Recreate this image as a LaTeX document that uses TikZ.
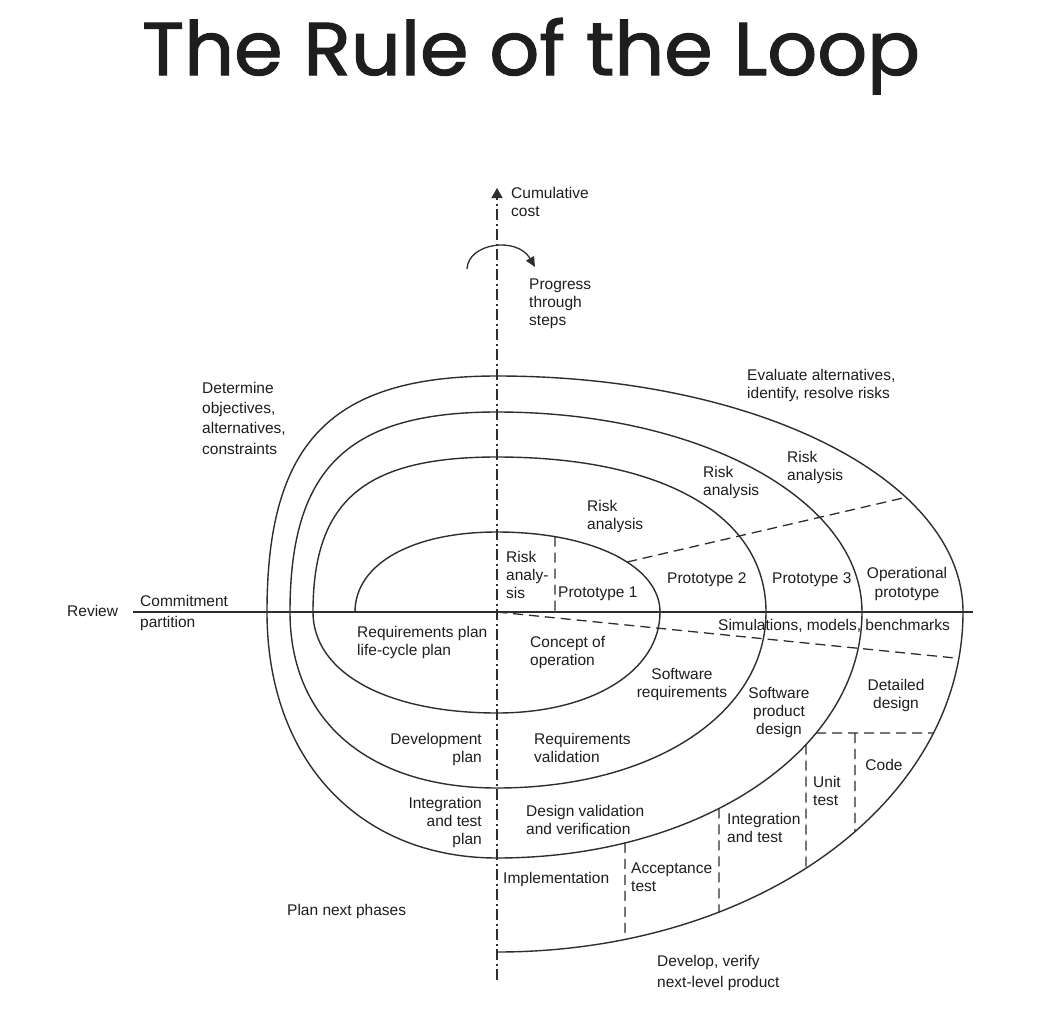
\documentclass[tikz,border=0pt]{standalone}
\usepackage{fontspec}
\setmainfont{Liberation Sans}
\newfontfamily\titlefont[FakeBold=1.5]{Poppins}
\usetikzlibrary{arrows.meta,intersections,calc}
\definecolor{ink}{HTML}{1E1E1E}
\definecolor{lineink}{HTML}{2E2E2E}
\begin{document}
\begin{tikzpicture}[x=1pt,y=-1pt,
  lbl/.style={font=\fontsize{15.5}{18}\selectfont, text=ink, inner sep=0pt, anchor=base west, align=left},
  lblc/.style={lbl, anchor=base, align=center},
  lblr/.style={lbl, anchor=base east, align=right},
  wide/.style={font=\fontsize{15.5}{20.3}\selectfont},
  mid/.style={font=\fontsize{15.5}{19}\selectfont},
  curve/.style={draw=lineink, line width=1.4pt},
  dashline/.style={draw=lineink, line width=1.3pt, dash pattern=on 10pt off 6pt},
  axisline/.style={draw=lineink, line width=1.3pt},
  dashdotline/.style={draw=lineink, line width=1.2pt, dash pattern=on 11pt off 3.5pt on 2pt off 3.5pt},
]
\fill[white] (0,0) rectangle (1063,1009);
\useasboundingbox (0,0) rectangle (1063,1009);

% title
\node[anchor=base, inner sep=0pt, text=ink] (title) at (531,75)
  {\resizebox{778pt}{57pt}{\titlefont The Rule of the Loop}};

% axes
\coordinate (hl) at (133,612);
\coordinate (hr) at (973,612);
\coordinate (vb) at (497,980);
\coordinate (vt) at (497,188);
\coordinate (o) at (497,612);
\draw[axisline] (hl) -- (hr);
\draw[dashdotline, -{Triangle[width=11pt,length=10pt]}] (vb) -- (vt);

% progress arrow
\coordinate (pa) at (467,269);
\coordinate (pb) at (535,267);
\draw[curve, line width=1.3pt, -{Triangle[width=9pt,length=10pt]}] (pa) .. controls (468,243) and (517,236) .. (pb);

% spiral
\draw[curve] (355,612)
 .. controls (355,564) and (412,532) .. (497,532)
 .. controls (592,532) and (660,566) .. (660,612)
 .. controls (660,671) and (592,713) .. (497,713)
 .. controls (387,713) and (313,673) .. (313,612)
 .. controls (313,500) and (365,457) .. (497,457)
 .. controls (664,457) and (766,516) .. (766,612)
 .. controls (766,714) and (653,788) .. (497,788)
 .. controls (369,788) and (290,721) .. (290,612)
 .. controls (290,468) and (348,412) .. (497,412)
 .. controls (701,412) and (862,500) .. (862,612)
 .. controls (862,750) and (701,858) .. (497,858)
 .. controls (359,858) and (267,760) .. (267,612)
 .. controls (267,442) and (331,376) .. (497,376)
 .. controls (758,376) and (963,480) .. (963,612)
 .. controls (963,802) and (758,952) .. (497,952);

% quarters used for intersections
\path[name path=q2] (497,532) .. controls (592,532) and (660,566) .. (660,612);
\path[name path=q11] (862,612) .. controls (862,750) and (701,858) .. (497,858);
\path[name path=q14] (497,376) .. controls (758,376) and (963,480) .. (963,612);
\path[name path=q15] (963,612) .. controls (963,802) and (758,952) .. (497,952);

% risk line
\path[name path=l1] (600,568.3) -- (990,477.8);
\path[name intersections={of=l1 and q2,by=r1}];
\path[name intersections={of=l1 and q14,by=r2}];
\draw[dashline] (r1) -- (r2);

% inner vertical dashed
\coordinate (p0) at (555,612);
\path[name path=v4] (555,480) -- (555,612);
\path[name intersections={of=v4 and q2,by=p1}];
\draw[dashline] (p1) -- (p0);

% simulations line
\path[name path=l2] (497,612) -- (1000,662.5);
\path[name intersections={of=l2 and q15,by=s1}];
\draw[dashline] (o) -- (s1);

% detailed design / code partition
\path[name path=h1] (760,733) -- (990,733);
\path[name intersections={of=h1 and q11,by=d1}];
\path[name intersections={of=h1 and q15,by=d2}];
\draw[dashline] (d1) -- (d2);
\coordinate (c1) at (855,733);
\path[name path=v0] (855,733) -- (855,1000);
\path[name intersections={of=v0 and q15,by=c2}];
\draw[dashline] (c1) -- (c2);

\path[name path=vu] (806,600) -- (806,1000);
\path[name intersections={of=vu and q11,by=u1}];
\path[name intersections={of=vu and q15,by=u2}];
\draw[dashline] (u1) -- (u2);
\path[name path=vi] (719,600) -- (719,1000);
\path[name intersections={of=vi and q11,by=i1}];
\path[name intersections={of=vi and q15,by=i2}];
\draw[dashline] (i1) -- (i2);
\path[name path=va] (625,600) -- (625,1000);
\path[name intersections={of=va and q11,by=a1}];
\path[name intersections={of=va and q15,by=a2}];
\draw[dashline] (a1) -- (a2);

% labels (base anchor = baseline of the last line)
\node[lbl] (cumul) at (511,216) {Cumulative\\cost};
\node[lbl] (progress) at (529,325) {Progress\\through\\steps};
\node[lbl, wide] (determine) at (202,454) {Determine\\objectives,\\alternatives,\\constraints};
\node[lbl] (evaluate) at (747,398) {Evaluate alternatives,\\identify, resolve risks};
\node[lbl] (review) at (67,616) {Review};
\node[lbl, wide] (commit) at (140,627) {Commitment\\partition};
\node[lbl] (risk4) at (787,480) {Risk\\analysis};
\node[lbl] (risk3) at (703,495) {Risk\\analysis};
\node[lbl] (risk2) at (587,529) {Risk\\analysis};
\node[lbl] (risk1) at (506,598) {Risk\\analy-\\sis};
\node[lbl] (proto1) at (558,597) {Prototype 1};
\node[lbl] (proto2) at (667,583) {Prototype 2};
\node[lbl] (proto3) at (772,583) {Prototype 3};
\node[lblc, mid] (oper) at (907,597) {Operational\\prototype};
\node[lbl] (sim) at (718,630) {Simulations, models, benchmarks};
\node[lbl] (reqplan) at (357,655) {Requirements plan\\life-cycle plan};
\node[lbl] (concept) at (530,665) {Concept of\\operation};
\node[lblc] (swreq) at (682,697) {Software\\requirements};
\node[lblc] (swprod) at (779,734) {Software\\product\\design};
\node[lblc] (detailed) at (896,708) {Detailed\\design};
\node[lblc] (code) at (884,770) {Code};
\node[lbl] (unit) at (813,805) {Unit\\test};
\node[lbl] (integ) at (727,842) {Integration\\and test};
\node[lbl] (accept) at (631,891) {Acceptance\\test};
\node[lbl] (impl) at (503,883) {Implementation};
\node[lblr] (devplan) at (482,762) {Development\\plan};
\node[lbl] (reqval) at (534,762) {Requirements\\validation};
\node[lblr] (itplan) at (482,844) {Integration\\and test\\plan};
\node[lbl] (desval) at (526,834) {Design validation\\and verification};
\node[lbl] (plannext) at (287,915) {Plan next phases};
\node[lbl, wide] (develop) at (657,987) {Develop, verify\\next-level product};
\end{tikzpicture}
\end{document}
